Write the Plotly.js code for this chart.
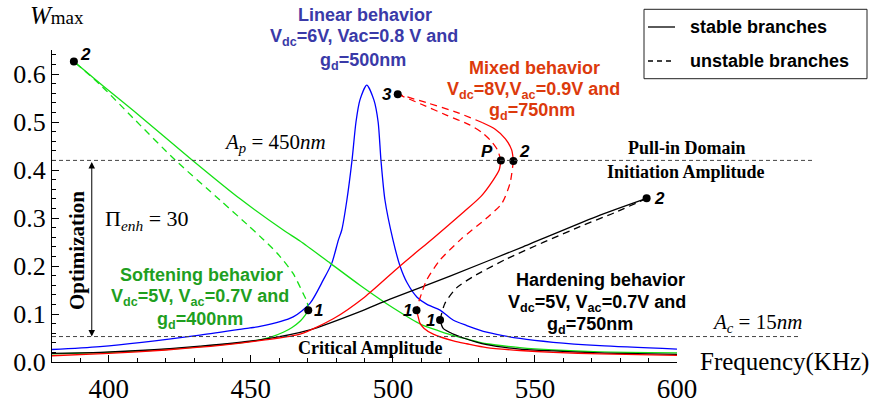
<!DOCTYPE html>
<html>
<head>
<meta charset="utf-8">
<script src="https://cdn.plot.ly/plotly-3.0.1.min.js"></script>
<style>html,body{margin:0;padding:0;background:#fff;}#chart{width:872px;height:403px;}</style>
</head>
<body>
<div id="chart"></div>
<script>
// ---------- data (frequency in KHz, amplitude Wmax) ----------
// Linear behavior (blue)
const blueF = [380, 396.9, 432.1, 449.7, 453.2, 464.9, 470.8, 475.5, 478.5, 480.8, 482.0, 483.8, 485.6, 487.0, 488.4, 490.8, 493.3, 494.8, 495.8, 497.2, 500.0, 502.5, 505.0, 508.5, 512.0, 516.6, 521.3, 526.0, 533.0, 544.7, 556.4, 572.9, 600];
const blueW = [0.026, 0.032, 0.056, 0.071, 0.074, 0.094, 0.122, 0.171, 0.206, 0.254, 0.275, 0.3375, 0.42, 0.50, 0.546, 0.577, 0.546, 0.50, 0.42, 0.3375, 0.255, 0.200, 0.165, 0.135, 0.120, 0.108, 0.087, 0.076, 0.062, 0.049, 0.041, 0.034, 0.027];

// Softening behavior (green)
const greenLowF = [380, 400, 420, 440, 450, 457, 461.4, 464.5, 467.5, 469.2, 470.2];
const greenLowW = [0.017, 0.020, 0.026, 0.036, 0.043, 0.052, 0.062, 0.072, 0.086, 0.098, 0.108];
const greenDashF = [470.2, 469.8, 468.3, 464.8, 459.2, 453.9, 449.0, 439.1, 423.5, 408.6, 396.9, 387.7];
const greenDashW = [0.108, 0.125, 0.144, 0.185, 0.227, 0.258, 0.285, 0.3375, 0.42, 0.508, 0.578, 0.626];
const greenUpF = [387.7, 398.0, 408.6, 429.5, 446.2, 461.4, 467.3, 477.9, 488.4, 500.0, 510.0, 516.6, 521.3, 526.0, 533.0, 544.7, 556.4, 572.9, 600];
const greenUpW = [0.626, 0.575, 0.524, 0.42, 0.34, 0.275, 0.252, 0.206, 0.160, 0.113, 0.078, 0.064, 0.055, 0.048, 0.038, 0.030, 0.025, 0.021, 0.019];

// Mixed behavior (red)
const redLowF = [380, 400, 420, 440, 455, 467.3, 479, 490, 502.5, 514.2, 525, 531, 535.3, 537.4, 538.0];
const redLowW = [0.013, 0.018, 0.025, 0.035, 0.046, 0.058, 0.090, 0.135, 0.200, 0.258, 0.313, 0.345, 0.379, 0.400, 0.42];
const redPDashF = [538.0, 536.8, 534.6, 531.4, 527.0, 519.0, 510.0, 501.7];
const redPDashW = [0.42, 0.442, 0.460, 0.478, 0.494, 0.514, 0.537, 0.558];
const redTopSolidF = [542.4, 541.8, 539.6, 536.0, 531.4];
const redTopSolidW = [0.419, 0.442, 0.465, 0.485, 0.499];
const redTopDashF = [531.4, 522.5, 512.0, 501.7];
const redTopDashW = [0.499, 0.520, 0.540, 0.558];
const redDownDashF = [542.4, 541.2, 538.3, 533.0, 524.0, 516.6, 511.9, 510.1, 508.9, 508.3];
const redDownDashW = [0.419, 0.372, 0.330, 0.300, 0.256, 0.2125, 0.171, 0.143, 0.122, 0.108];
const redTailF = [508.3, 508.9, 509.5, 511.0, 514.2, 521.3, 526.0, 533.0, 544.7, 556.4, 572.9, 600];
const redTailW = [0.108, 0.094, 0.081, 0.070, 0.058, 0.044, 0.038, 0.030, 0.024, 0.020, 0.017, 0.014];

// Hardening behavior (black)
const blackLowF = [380, 396.9, 414.5, 432.1, 453.2, 470.8, 488.4, 499.0, 520.1, 545.8, 572.9, 589.3];
const blackLowW = [0.018, 0.020, 0.025, 0.033, 0.046, 0.067, 0.105, 0.131, 0.179, 0.240, 0.306, 0.341];
const blackDashF = [589.3, 578.0, 565.8, 540.1, 528.3, 522.5, 518.3, 516.6];
const blackDashW = [0.341, 0.311, 0.282, 0.215, 0.178, 0.155, 0.122, 0.0875];
const blackTailF = [516.6, 517.7, 521.3, 524.8, 533.0, 544.7, 556.4, 572.9, 600];
const blackTailW = [0.0875, 0.070, 0.058, 0.050, 0.036, 0.027, 0.023, 0.019, 0.016];

// bifurcation points and their labels
const pointF = [387.7, 470.2, 501.7, 538.0, 542.4, 508.3, 516.6, 589.3];
const pointW = [0.626, 0.108, 0.558, 0.42, 0.419, 0.108, 0.0875, 0.341];
const pointLabels = ['2', '1', '3', 'P', '2', '1', '1', '2'];
const labelDX = [12, 10, -11, -14, 11, -9, -10, 13];
const labelDY = [7, 0, 0, 9, 9, 0, 0, 0];

// reference levels
const pullInLevel = 0.42;
const criticalLevel = 0.053;
const arrowF = 394;

const xTicks = [400, 450, 500, 550, 600];
const yTicks = [0, 0.1, 0.2, 0.3, 0.4, 0.5, 0.6];
const xMinorTicks = [380, 390, 410, 420, 430, 440, 460, 470, 480, 490, 510, 520, 530, 540, 560, 570, 580, 590];
const xRange = [380, 600];
const yRange = [0, 0.65];

// ---------- layout helpers ----------
const ML = 52, MT = 50, PW = 625, PH = 312;
function px(x) { return (x - ML) / PW; }
function py(y) { return (MT + PH - y) / PH; }

const BLUE = '#0000ff', GREEN = '#14e014', RED = '#ff0000', BLACK = '#000000';
const LW = 1.3, DASH = '7px,5px';

function line(x, y, color, dashed) {
  return { x: x, y: y, type: 'scatter', mode: 'lines', showlegend: false, hoverinfo: 'skip',
           line: { color: color, width: LW, dash: dashed ? DASH : 'solid', shape: 'spline', smoothing: 0.7 } };
}

const traces = [
  line(blueF, blueW, BLUE, false),
  line(greenLowF, greenLowW, GREEN, false),
  line(greenDashF, greenDashW, GREEN, true),
  line(greenUpF, greenUpW, GREEN, false),
  line(blackLowF, blackLowW, BLACK, false),
  line(blackDashF, blackDashW, BLACK, true),
  line(blackTailF, blackTailW, BLACK, false),
  line(redLowF, redLowW, RED, false),
  line(redPDashF, redPDashW, RED, true),
  line(redTopSolidF, redTopSolidW, RED, false),
  line(redTopDashF, redTopDashW, RED, true),
  line(redDownDashF, redDownDashW, RED, true),
  line(redTailF, redTailW, RED, false),
  { x: pointF, y: pointW, type: 'scatter', mode: 'markers', showlegend: false, hoverinfo: 'skip',
    marker: { color: 'black', size: 8 } }
];

const serif = 'Liberation Serif, Times New Roman, serif';
const sans = 'Liberation Sans, Arial, sans-serif';

const annotations = [];
function txt(text, x, y, opts) {
  opts = opts || {};
  annotations.push(Object.assign({
    text: text, x: px(x), y: py(y), xref: 'paper', yref: 'paper', showarrow: false,
    xanchor: 'center', yanchor: 'middle',
    font: { family: sans, size: 18, color: 'black' }
  }, opts));
}

// point labels
pointLabels.forEach(function (lab, i) {
  annotations.push({ text: '<b><i>' + lab + '</i></b>', x: pointF[i], y: pointW[i], xref: 'x', yref: 'y',
    showarrow: false, xshift: labelDX[i], yshift: labelDY[i],
    font: { family: sans, size: 17, color: 'black' } });
});

// behavior blocks
const cBlue = '#3a3aa8', cRed = '#dc3a0c', cGreen = '#1f9f1f';
const bold18 = function (c) { return { family: sans, size: 18, color: c }; };
txt('<b>Linear behavior</b>', 365, 15, { font: bold18(cBlue) });
txt('<b>V<sub>dc</sub>=6V, Vac=0.8 V and</b>', 364, 38, { font: bold18(cBlue) });
txt('<b>g<sub>d</sub>=500nm</b>', 363, 61, { font: bold18(cBlue) });

txt('<b>Mixed behavior</b>', 534, 68, { font: bold18(cRed) });
txt('<b>V<sub>dc</sub>=8V,V<sub>ac</sub>=0.9V and</b>', 533, 90, { font: bold18(cRed) });
txt('<b>g<sub>d</sub>=750nm</b>', 532, 112, { font: bold18(cRed) });

txt('<b>Softening behavior</b>', 201, 275, { font: bold18(cGreen) });
txt('<b>V<sub>dc</sub>=5V, V<sub>ac</sub>=0.7V and</b>', 200, 297, { font: bold18(cGreen) });
txt('<b>g<sub>d</sub>=400nm</b>', 200, 320, { font: bold18(cGreen) });

txt('<b>Hardening behavior</b>', 600, 280, { font: bold18(BLACK) });
txt('<b>V<sub>dc</sub>=5V, V<sub>ac</sub>=0.7V and</b>', 597, 303, { font: bold18(BLACK) });
txt('<b>g<sub>d</sub>=750nm</b>', 590, 325, { font: bold18(BLACK) });

// serif labels
txt('<i>A</i><sub><i>p</i></sub> = 450<i>nm</i>', 222, 143, { xanchor: 'left', font: { family: serif, size: 21, color: 'black' } });
txt('<i>A</i><sub><i>c</i></sub> = 15<i>nm</i>', 710, 323, { xanchor: 'left', font: { family: serif, size: 21, color: 'black' } });
txt('Π<sub><i>enh</i></sub> = 30', 103, 220, { xanchor: 'left', font: { family: serif, size: 22, color: 'black' } });
txt('<b>Pull-in Domain</b>', 687, 148, { font: { family: serif, size: 18, color: 'black' } });
txt('<b>Initiation Amplitude</b>', 686, 172, { font: { family: serif, size: 18, color: 'black' } });
txt('<b>Critical Amplitude</b>', 370, 348, { font: { family: serif, size: 18, color: 'black' } });
txt('<b>Optimization</b>', 77, 251, { textangle: -90, font: { family: serif, size: 21, color: 'black' } });
txt('<i>W</i><span style="font-size:19px">max</span>', 28, 16, { xanchor: 'left', font: { family: serif, size: 25, color: 'black' } });
txt('Frequency(KHz)', 698, 362, { xanchor: 'left', font: { family: serif, size: 25, color: 'black' } });

// legend texts
txt('<b>stable branches</b>', 688, 27, { xanchor: 'left', font: { family: sans, size: 18, color: 'black' } });
txt('<b>unstable branches</b>', 688, 61, { xanchor: 'left', font: { family: sans, size: 18, color: 'black' } });

// optimization double arrow
annotations.push({ x: arrowF, y: criticalLevel, ax: arrowF, ay: pullInLevel, xref: 'x', yref: 'y',
  axref: 'x', ayref: 'y', text: '', showarrow: true, arrowside: 'end+start', arrowhead: 2,
  arrowsize: 1.3, arrowwidth: 1, arrowcolor: 'black' });

const shapes = [
  { type: 'line', xref: 'paper', yref: 'paper', x0: 0, x1: px(812), y0: pullInLevel / yRange[1], y1: pullInLevel / yRange[1],
    line: { color: '#444', width: 1, dash: '4px,3px' } },
  { type: 'line', xref: 'paper', yref: 'paper', x0: 0, x1: px(800), y0: criticalLevel / yRange[1], y1: criticalLevel / yRange[1],
    line: { color: '#444', width: 1, dash: '4px,3px' } },
  // legend box
  { type: 'rect', xref: 'paper', yref: 'paper', x0: px(644), x1: px(867), y0: py(78.7), y1: py(9.3),
    line: { color: '#222', width: 1 } },
  { type: 'line', xref: 'paper', yref: 'paper', x0: px(648), x1: px(675), y0: py(27), y1: py(27),
    line: { color: 'black', width: 1.3 } },
  { type: 'line', xref: 'paper', yref: 'paper', x0: px(648), x1: px(675), y0: py(61), y1: py(61),
    line: { color: 'black', width: 1.3, dash: '5px,4px' } }
];

const layout = {
  width: 872, height: 403,
  margin: { l: ML, r: 872 - ML - PW, t: MT, b: 403 - MT - PH, pad: 0 },
  paper_bgcolor: 'white', plot_bgcolor: 'white',
  showlegend: false,
  xaxis: {
    range: xRange, tickvals: xTicks, ticktext: xTicks.map(String),
    ticks: 'inside', ticklen: 7, tickwidth: 1, tickcolor: 'black', ticklabelstandoff: 3,
    showline: true, linecolor: 'black', linewidth: 1, showgrid: false, zeroline: false,
    tickfont: { family: serif, size: 27, color: 'black' },
    minor: { tickvals: xMinorTicks, ticks: 'inside', ticklen: 4, tickwidth: 1, tickcolor: 'black' }
  },
  yaxis: {
    range: yRange, tickvals: yTicks, ticktext: yTicks.map(function (v) { return v.toFixed(1); }),
    ticks: 'inside', ticklen: 7, tickwidth: 1, tickcolor: 'black',
    showline: true, linecolor: 'black', linewidth: 1, showgrid: false, zeroline: false,
    tickfont: { family: serif, size: 26, color: 'black' },
    minor: { dtick: 0.02, tick0: 0, ticks: 'inside', ticklen: 4, tickwidth: 1, tickcolor: 'black' }
  },
  annotations: annotations,
  shapes: shapes
};

Plotly.newPlot('chart', traces, layout, { displayModeBar: false, staticPlot: true });
</script>
</body>
</html>
